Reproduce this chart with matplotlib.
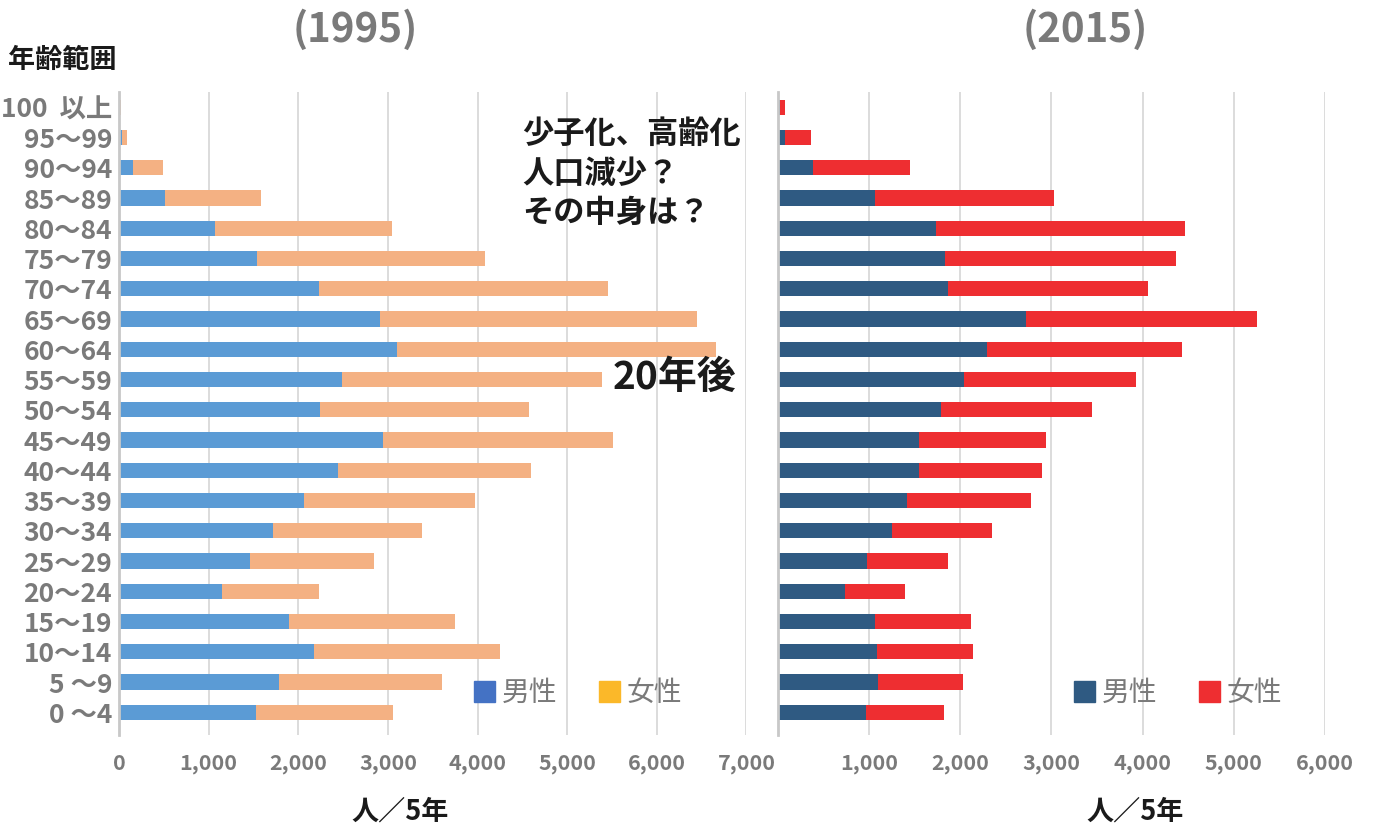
import matplotlib.pyplot as plt
from matplotlib.patches import Patch
from matplotlib.ticker import FuncFormatter

plt.rcParams['font.family'] = ['Noto Sans CJK JP', 'DejaVu Sans']

# Age groups, bottom (0-4) to top (100+)
ages = ['0 ～4', '5 ～9', '10～14', '15～19', '20～24', '25～29', '30～34',
        '35～39', '40～44', '45～49', '50～54', '55～59', '60～64', '65～69',
        '70～74', '75～79', '80～84', '85～89', '90～94', '95～99', '100  以上']

# 1995 (people per 5-year band)
male_1995 = [1530, 1790, 2170, 1900, 1150, 1460, 1720, 2060, 2440, 2940, 2240,
             2490, 3100, 2910, 2230, 1540, 1070, 510, 160, 30, 3]
female_1995 = [1530, 1810, 2080, 1850, 1080, 1380, 1660, 1910, 2160, 2570, 2330,
               2900, 3560, 3540, 3220, 2540, 1980, 1070, 330, 60, 17]

# 2015
male_2015 = [960, 1100, 1085, 1060, 740, 980, 1250, 1420, 1550, 1550, 1790,
             2040, 2290, 2720, 1860, 1830, 1730, 1060, 380, 80, 20]
female_2015 = [860, 930, 1050, 1060, 650, 880, 1100, 1360, 1350, 1390, 1650,
               1890, 2140, 2540, 2200, 2540, 2730, 1970, 1070, 280, 60]

left_ticks = [0, 1000, 2000, 3000, 4000, 5000, 6000, 7000]
right_ticks = [1000, 2000, 3000, 4000, 5000, 6000]

GRAY = '#7A7A7A'
GRID = '#D9D9D9'
INK = '#1A1A1A'

fig = plt.figure(figsize=(13.76, 8.30), dpi=100)
ax1 = fig.add_axes([0.0865, 0.1145, 0.456, 0.7745])
ax2 = fig.add_axes([0.5654, 0.1145, 0.3975, 0.7745])

y = range(len(ages))
fmt = FuncFormatter(lambda v, p: f'{int(v):,}')

# left: 1995
ax1.barh(y, male_1995, height=0.5, color='#5B9BD5', zorder=2)
ax1.barh(y, female_1995, left=male_1995, height=0.5, color='#F4B183', zorder=2)
ax1.set_xlim(0, 7000)
ax1.set_xticks(left_ticks)
ax1.set_yticks(list(y))
ax1.set_yticklabels(ages)

# right: 2015
ax2.barh(y, male_2015, height=0.5, color='#2F5A82', zorder=2)
ax2.barh(y, female_2015, left=male_2015, height=0.5, color='#EE2E31', zorder=2)
ax2.set_xlim(0, 6000)
ax2.set_xticks(right_ticks)
ax2.set_yticks([])

for ax in (ax1, ax2):
    ax.set_ylim(-0.75, 20.5)
    ax.xaxis.set_major_formatter(fmt)
    ax.grid(axis='x', color=GRID, linewidth=1.3, zorder=3 if ax is ax2 else 0)
    for s in ('top', 'right', 'bottom'):
        ax.spines[s].set_visible(False)
    ax.spines['left'].set_color('#C8C8C8')
    ax.spines['left'].set_linewidth(2)
    ax.tick_params(length=0, labelcolor=GRAY)
    ax.tick_params(axis='x', pad=13, labelsize=15.5)
    ax.tick_params(axis='y', pad=5, labelsize=19)
    for lab in ax.get_xticklabels() + ax.get_yticklabels():
        lab.set_fontweight('bold')
ax1.set_axisbelow(True)

# legends (handle colours differ from bars, as in the original)
h1 = [Patch(color='#4472C4'), Patch(color='#FBB829')]
fig.legend(h1, ['男性', '女性'], loc='center', bbox_to_anchor=(0.42, 0.165),
           ncol=2, frameon=False, handlelength=0.75, handleheight=0.75,
           handletextpad=0.25, columnspacing=1.5,
           prop={'size': 20}, labelcolor=GRAY)
h2 = [Patch(color='#2F5A82'), Patch(color='#EE2E31')]
fig.legend(h2, ['男性', '女性'], loc='center', bbox_to_anchor=(0.856, 0.165),
           ncol=2, frameon=False, handlelength=0.75, handleheight=0.75,
           handletextpad=0.25, columnspacing=1.5,
           prop={'size': 20}, labelcolor=GRAY)

# titles and labels
fig.text(355 / 1376, 1 - 30 / 830, '(1995)', ha='center', va='center',
         fontsize=29, fontweight='bold', color=GRAY)
fig.text(1085 / 1376, 1 - 30 / 830, '(2015)', ha='center', va='center',
         fontsize=29, fontweight='bold', color=GRAY)
fig.text(8 / 1376, 1 - 60 / 830, '年齢範囲', ha='left', va='center',
         fontsize=19.5, fontweight='bold', color=INK)
fig.text(400 / 1376, 1 - 812 / 830, '人／5年', ha='center', va='center',
         fontsize=19.5, fontweight='bold', color=INK)
fig.text(1135 / 1376, 1 - 812 / 830, '人／5年', ha='center', va='center',
         fontsize=19.5, fontweight='bold', color=INK)

# annotations
fig.text(522 / 1376, 1 - 118 / 830, '少子化、高齢化\n人口減少？\nその中身は？',
         ha='left', va='top', fontsize=22.5, fontweight='bold',
         color=INK, linespacing=1.3)
fig.text(613 / 1376, 1 - 377 / 830, '20年後', ha='left', va='center',
         fontsize=28, fontweight='bold', color=INK)

fig.savefig('out.png', dpi=100)
